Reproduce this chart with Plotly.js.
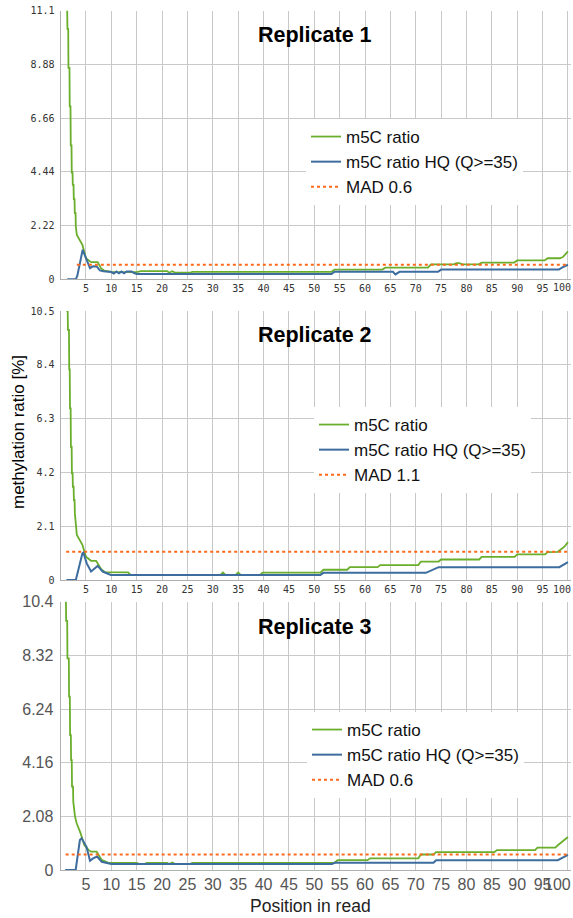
<!DOCTYPE html>
<html>
<head>
<meta charset="utf-8">
<script src="https://cdn.plot.ly/plotly-3.0.1.min.js"></script>
<style>html,body{margin:0;padding:0;background:#fff;}#chart{width:573px;height:918px;}</style>
</head>
<body>
<div id="chart"></div>
<script>
// ---------- data ----------
const xTicks = [5,10,15,20,25,30,35,40,45,50,55,60,65,70,75,80,85,90,95,100];
const xTickText = xTicks.map(String);

const yTicks1 = [0, 2.22, 4.44, 6.66, 8.88, 11.1];
const yTickText1 = ["0", "2.22", "4.44", "6.66", "8.88", "11.1"];
const yTicks2 = [0, 2.1, 4.2, 6.3, 8.4, 10.5];
const yTickText2 = ["0", "2.1", "4.2", "6.3", "8.4", "10.5"];
const yTicks3 = [0, 2.08, 4.16, 6.24, 8.32, 10.4];
const yTickText3 = ["0", "2.08", "4.16", "6.24", "8.32", "10.4"];

const seriesNames = ["m5C ratio", "m5C ratio HQ (Q>=35)"];
const madNames = ["MAD 0.6", "MAD 1.1", "MAD 0.6"];
const madValues = [0.6, 1.1, 0.6];
const titles = ["Replicate 1", "Replicate 2", "Replicate 3"];

// Replicate 1
const r1GreenX = [1.3,1.35,1.5,1.55,1.75,1.8,1.95,2.0,2.15,2.2,2.35,2.4,2.55,2.6,2.75,2.8,2.95,3.0,3.2,4.3,5,5.6,6,7.3,8,8.6,10,15,15.8,21,21.4,22,22.6,25.4,26,53.4,54,63.4,64,72.4,73,77.5,78,78.6,79.2,82.4,83,89.4,90,95.4,96,98.4,99,100];
const r1GreenY = [11.1,10.34,10.34,8.73,8.73,7.14,7.14,5.53,5.53,4.41,4.41,3.9,3.9,3.31,3.31,2.73,2.73,2.18,1.83,1.42,0.87,0.75,0.71,0.71,0.45,0.36,0.31,0.3,0.34,0.34,0.27,0.33,0.27,0.27,0.31,0.31,0.4,0.4,0.48,0.48,0.62,0.62,0.67,0.67,0.62,0.62,0.69,0.69,0.78,0.78,0.87,0.87,0.92,1.15];
const r1BlueX = [1.3,3.0,3.3,4.35,5,5.8,6.4,7.1,7.75,8.4,10,10.5,11,11.5,12,12.5,13,14,14.5,15,53.4,54,65.5,66,66.8,74.4,75,98.2,99,100];
const r1BlueY = [0,0,0.15,1.22,0.87,0.46,0.54,0.53,0.37,0.33,0.3,0.24,0.32,0.25,0.32,0.25,0.32,0.32,0.26,0.22,0.22,0.31,0.31,0.2,0.31,0.31,0.4,0.4,0.5,0.6];
const r1MadX = [3.2, 100];

// Replicate 2
const r2GreenX = [1.14,1.4,1.45,1.65,1.7,1.8,1.85,1.98,2.03,2.18,2.23,2.37,2.42,2.57,2.62,2.76,2.81,3.0,3.2,4.3,5,6,7,8,8.7,13.3,13.8,31.5,32,32.5,34.5,35,35.5,39.3,39.8,51.2,51.8,56.5,57,62.5,63,70.5,71,74.5,75,82.5,83,89.5,90,95.5,96,98,99.3,100];
const r2GreenY = [10.5,10.5,9.76,9.76,8.22,8.22,6.7,6.7,5.2,5.2,4.16,4.16,3.64,3.64,3.12,3.12,2.6,2.08,1.76,1.37,0.91,0.75,0.75,0.42,0.31,0.3,0.2,0.2,0.29,0.2,0.2,0.29,0.2,0.2,0.29,0.29,0.4,0.4,0.5,0.5,0.58,0.58,0.72,0.72,0.8,0.8,0.9,0.9,1.0,1.0,1.09,1.1,1.3,1.48];
const r2BlueX = [1.14,3.0,4.3,4.5,5.15,6,7.3,8.3,9.9,51.2,51.8,72,74.5,98.3,100];
const r2BlueY = [0,0,1.04,1.07,0.65,0.33,0.55,0.33,0.2,0.2,0.28,0.28,0.5,0.5,0.7];
const r2MadX = [1.1, 100];

// Replicate 3
const r3GreenX = [0.9,1.05,1.1,1.3,1.35,1.62,1.67,1.82,1.87,2.02,2.07,2.2,2.25,2.45,2.5,2.84,3.17,3.95,4.67,5.5,6,7.1,8.1,9.4,15,15.5,16.5,17,21,21.4,22,22.6,25.4,26,54,54.6,60.5,61,70.5,71,73.5,74,85.5,86,93.5,94,97.5,98,100];
const r3GreenY = [10.4,10.4,9.66,9.66,8.2,8.2,6.72,6.72,5.23,5.23,4.26,4.26,3.23,3.23,2.65,2.07,1.81,1.42,0.97,0.78,0.71,0.71,0.39,0.28,0.28,0.23,0.23,0.28,0.28,0.23,0.29,0.23,0.23,0.28,0.28,0.38,0.38,0.45,0.45,0.6,0.6,0.69,0.69,0.77,0.77,0.87,0.87,0.96,1.28];
const r3BlueX = [0.9,2.97,3.8,4.15,5.1,5.8,6.4,7.2,8.1,9.4,10,53.5,54,73.5,74,98,100];
const r3BlueY = [0,0,1.16,1.23,0.9,0.36,0.45,0.52,0.32,0.26,0.23,0.23,0.28,0.28,0.38,0.38,0.59];
const r3MadX = [1, 100];

// ---------- styling ----------
const W = 573, H = 918;
const GREEN = '#6aae2c', BLUE = '#3d6d9e', ORANGE = '#ff6a1a';
const lastIdx = xTicks.length - 1;
// the last label ("100") is drawn right-aligned at its tick so it stays inside the page, as in the reference
const axisTickText = xTickText.map((t, k) => k === lastIdx ? '' : t);

const panels = [
  {gx: r1GreenX, gy: r1GreenY, bx: r1BlueX, by: r1BlueY, mx: r1MadX, top: 10.5, bottom: 279.3, yt: yTicks1, ytt: yTickText1, yr: 11.1, small: true, lastShift: -8.7},
  {gx: r2GreenX, gy: r2GreenY, bx: r2BlueX, by: r2BlueY, mx: r2MadX, top: 311, bottom: 580, yt: yTicks2, ytt: yTickText2, yr: 10.5, small: true, lastShift: -9},
  {gx: r3GreenX, gy: r3GreenY, bx: r3BlueX, by: r3BlueY, mx: r3MadX, top: 601.7, bottom: 870, yt: yTicks3, ytt: yTickText3, yr: 10.4, small: false, lastShift: -14}
];
const legendPos = [{x: 306, y: 119}, {x: 314, y: 407}, {x: 307, y: 712}];
const titleY = [35, 335, 627];

const data = [];
const layout = {
  width: W, height: H,
  margin: {l: 0, r: 0, t: 0, b: 0},
  paper_bgcolor: '#ffffff', plot_bgcolor: '#ffffff',
  showlegend: true,
  annotations: []
};

panels.forEach((p, i) => {
  const n = i + 1;
  const xa = 'x' + (n === 1 ? '' : n), ya = 'y' + (n === 1 ? '' : n);
  const lg = 'legend' + (n === 1 ? '' : n);
  data.push({x: p.gx, y: p.gy, xaxis: xa, yaxis: ya, type: 'scatter', mode: 'lines', name: seriesNames[0], legend: lg,
             line: {color: GREEN, width: 1.8}});
  data.push({x: p.bx, y: p.by, xaxis: xa, yaxis: ya, type: 'scatter', mode: 'lines', name: seriesNames[1], legend: lg,
             line: {color: BLUE, width: 2}});
  data.push({x: p.mx, y: p.mx.map(() => madValues[i]), xaxis: xa, yaxis: ya, type: 'scatter', mode: 'lines', name: madNames[i], legend: lg,
             line: {color: ORANGE, width: 2, dash: 'dot'}});

  const tickFont = p.small ? {family: 'DejaVu Sans Mono', size: 10, color: '#333'}
                           : {family: 'Liberation Sans, Arial', size: 16, color: '#555'};
  layout['xaxis' + (n === 1 ? '' : n)] = {
    domain: [60.6 / W, 571 / W], anchor: ya, range: [0, 100.6],
    tickmode: 'array', tickvals: xTicks, ticktext: axisTickText, tickangle: 0,
    showgrid: true, gridcolor: '#c9c9c9', gridwidth: 1, zeroline: false,
    showline: true, linecolor: '#b0b0b0', linewidth: 1, ticks: '',
    tickfont: tickFont, fixedrange: true
  };
  layout['yaxis' + (n === 1 ? '' : n)] = {
    domain: [1 - p.bottom / H, 1 - p.top / H], anchor: xa, range: [0, p.yr],
    tickmode: 'array', tickvals: p.yt, ticktext: p.ytt,
    showgrid: true, gridcolor: '#c9c9c9', gridwidth: 1, zeroline: false,
    showline: true, linecolor: '#b0b0b0', linewidth: 1, ticks: '',
    tickfont: tickFont, ticklabelstandoff: 3, ticklabeloverflow: 'allow', fixedrange: true
  };
  layout[lg] = {
    x: legendPos[i].x / W, y: 1 - legendPos[i].y / H, xanchor: 'left', yanchor: 'top',
    bgcolor: '#ffffff', borderwidth: 0,
    font: {family: 'Liberation Sans, Arial', size: 17, color: '#111'}
  };
  layout.annotations.push({
    text: '<b>' + titles[i] + '</b>', xref: 'paper', yref: 'paper',
    x: 315 / W, y: 1 - titleY[i] / H, xanchor: 'center', yanchor: 'middle', showarrow: false,
    font: {family: 'Liberation Sans, Arial', size: 21.5, color: '#000'}
  });
  layout.annotations.push({
    text: xTickText[lastIdx], xref: xa, yref: ya, x: xTicks[lastIdx], y: 0,
    xanchor: 'right', yanchor: 'middle', xshift: 4, yshift: p.lastShift, showarrow: false, borderpad: 0,
    font: tickFont
  });
});

layout.annotations.push({
  text: 'methylation ratio [%]', xref: 'paper', yref: 'paper', x: 18 / W, y: 1 - 432 / H,
  xanchor: 'center', yanchor: 'middle', textangle: -90, showarrow: false,
  font: {family: 'Liberation Sans, Arial', size: 17, color: '#000'}
});
layout.annotations.push({
  text: 'Position in read', xref: 'paper', yref: 'paper', x: 310 / W, y: 1 - 906 / H,
  xanchor: 'center', yanchor: 'middle', showarrow: false,
  font: {family: 'Liberation Sans, Arial', size: 17.5, color: '#222'}
});

Plotly.newPlot('chart', data, layout, {staticPlot: true, displayModeBar: false});
</script>
</body>
</html>
